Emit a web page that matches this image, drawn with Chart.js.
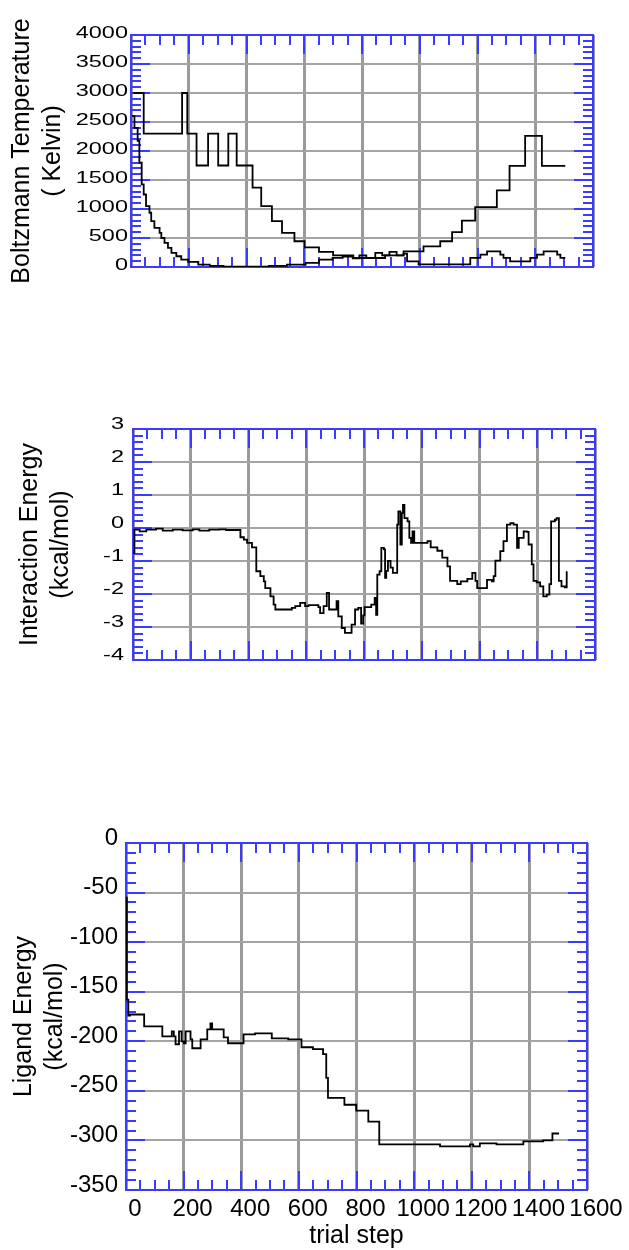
<!DOCTYPE html>
<html><head><meta charset="utf-8">
<script src="https://cdn.jsdelivr.net/npm/chart.js@4.4.1/dist/chart.umd.min.js"></script>
<style>
html,body{margin:0;padding:0;background:#fff;width:629px;height:1250px;overflow:hidden}
.box{position:absolute;left:0;width:629px}
</style></head><body>
<div class="box" style="top:0;height:300px"><canvas id="c1"></canvas></div>
<div class="box" style="top:400px;height:300px"><canvas id="c2"></canvas></div>
<div class="box" style="top:800px;height:450px"><canvas id="c3"></canvas></div>
<script>
// ---------- data ----------
const stepMin = 0, stepMax = 1600;

// Chart 1: Boltzmann temperature (schedule and actual)
const scheduleStep = [8, 44, 177, 195, 227, 267, 302, 337, 366, 421, 451, 488, 523, 566, 601, 651, 700, 770, 880, 944, 1013, 1071, 1112, 1146, 1192, 1267, 1311, 1365, 1423, 1504];
const scheduleTemp = [3000, 2300, 3000, 2300, 1750, 2300, 1750, 2300, 1750, 1370, 1050, 790, 590, 444, 340, 260, 200, 155, 200, 270, 356, 444, 600, 800, 1033, 1321, 1743, 2262, 1743, 1743];
const actualStep = [4, 12, 23, 29, 37, 44, 52, 64, 70, 81, 99, 105, 116, 128, 140, 157, 174, 198, 233, 273, 320, 477, 540, 605, 651, 698, 733, 768, 791, 815, 846, 870, 895, 920, 944, 956, 996, 1175, 1210, 1233, 1279, 1290, 1313, 1383, 1406, 1429, 1476, 1487, 1504];
const actualTemp = [2600, 2400, 2175, 1800, 1425, 1250, 1050, 935, 790, 675, 590, 500, 415, 330, 242, 185, 127, 87, 40, 20, 5, 20, 40, 70, 127, 156, 180, 150, 200, 156, 242, 200, 260, 200, 230, 98, 45, 156, 213, 271, 213, 156, 98, 156, 213, 271, 213, 156, 156];

// Chart 2: interaction energy
const interStep = [0, 5, 23, 46, 80, 103, 138, 172, 207, 230, 264, 299, 322, 372, 384, 395, 412, 427, 441, 453, 458, 476, 487, 493, 550, 562, 579, 596, 608, 642, 648, 660, 671, 679, 705, 711, 723, 734, 751, 757, 769, 780, 790, 797, 802, 825, 837, 842, 846, 854, 860, 869, 873, 877, 883, 892, 900, 915, 919, 926, 931, 935, 940, 951, 957, 963, 968, 974, 1020, 1031, 1054, 1071, 1089, 1098, 1123, 1135, 1158, 1175, 1186, 1192, 1215, 1226, 1243, 1249, 1255, 1272, 1283, 1295, 1307, 1318, 1330, 1336, 1353, 1364, 1370, 1381, 1387, 1398, 1410, 1421, 1433, 1442, 1448, 1461, 1467, 1475, 1484, 1496, 1502];
const interEnergy = [-0.75, -0.05, -0.1, -0.05, -0.02, -0.08, -0.05, -0.07, -0.04, -0.08, -0.05, -0.04, -0.06, -0.28, -0.35, -0.45, -0.59, -1.31, -1.46, -1.62, -1.82, -2.07, -2.32, -2.47, -2.42, -2.37, -2.27, -2.37, -2.34, -2.4, -2.58, -2.37, -1.97, -2.47, -2.22, -2.68, -3.03, -3.18, -3.18, -2.93, -2.47, -2.42, -2.9, -2.65, -2.4, -2.32, -2.12, -2.63, -1.41, -1.31, -0.6, -0.65, -1.51, -1.3, -1.0, -1.2, -1.36, 0.1, 0.5, -0.5, 0.45, 0.7, 0.3, 0.2, -0.3, -0.45, -0.1, -0.45, -0.4, -0.59, -0.69, -0.9, -1.16, -1.6, -1.7, -1.62, -1.54, -1.36, -1.6, -1.82, -1.82, -1.57, -1.62, -1.46, -0.99, -0.7, -0.4, 0.1, 0.15, 0.1, -0.6, -0.3, -0.1, -0.12, -0.5, -1.1, -1.6, -1.65, -1.77, -2.07, -2.02, -1.7, 0.2, 0.25, 0.3, -1.6, -1.77, -1.8, -1.31];

// Chart 3: ligand energy
const ligandStep = [0, 3, 8, 14, 63, 126, 159, 166, 172, 184, 193, 201, 207, 224, 230, 259, 282, 293, 299, 339, 354, 408, 448, 506, 563, 609, 649, 684, 695, 701, 758, 799, 841, 879, 1090, 1194, 1205, 1228, 1286, 1379, 1448, 1480, 1503];
const ligandEnergy = [-55, -158, -174, -173, -185, -195, -190, -195, -203, -190, -200, -202, -190, -198, -207, -198, -188, -182, -188, -196, -202, -193, -192, -197, -198, -206, -208, -213, -237, -257, -264, -270, -281, -304, -306, -304, -306, -303, -304, -301, -300, -293, -293];

const stepTickLabels = [0, 200, 400, 600, 800, 1000, 1200, 1400, 1600];

// ---------- helpers ----------
const FONT = '"Liberation Sans", Arial, Helvetica, sans-serif';
const toXY = (xs, ys) => xs.map((x, i) => ({x, y: ys[i]}));

const framePlugin = {
  id: 'frame',
  beforeDatasetsDraw(chart, args, o) {
    const {ctx, chartArea: a, scales: {x, y}} = chart;
    ctx.save();
    ctx.strokeStyle = o.color;
    ctx.lineWidth = 2;
    ctx.beginPath();
    const nx = Math.round((x.max - x.min) / o.xMinor);
    for (let i = 0; i <= nx; i++) {
      const v = x.min + i * o.xMinor;
      const px = Math.round(x.getPixelForValue(v));
      const maj = Math.abs(v / o.xMajor - Math.round(v / o.xMajor)) < 1e-6;
      const len = maj ? 19 : 10;
      ctx.moveTo(px, a.top); ctx.lineTo(px, a.top + len);
      ctx.moveTo(px, a.bottom); ctx.lineTo(px, a.bottom - len);
    }
    const ny = Math.round((y.max - y.min) / o.yMinor);
    for (let i = 0; i <= ny; i++) {
      const v = y.min + i * o.yMinor;
      const py = Math.round(y.getPixelForValue(v));
      const maj = Math.abs(v / o.yMajor - Math.round(v / o.yMajor)) < 1e-6;
      const len = maj ? 19 : 10;
      ctx.moveTo(a.left, py); ctx.lineTo(a.left + len, py);
      ctx.moveTo(a.right, py); ctx.lineTo(a.right - len, py);
    }
    ctx.stroke();
    ctx.strokeRect(a.left, a.top, a.right - a.left, a.bottom - a.top);
    ctx.restore();
  },
  afterDraw(chart, args, o) {
    if (!o.labels) return;
    const {ctx, chartArea: a, scales: {y}} = chart;
    ctx.save();
    ctx.font = o.labels.size + 'px ' + FONT;
    ctx.fillStyle = '#000';
    ctx.textAlign = 'right';
    ctx.textBaseline = 'middle';
    y.ticks.forEach(t => {
      const py = y.getPixelForValue(t.value) + o.labels.offset;
      ctx.save();
      ctx.translate(a.left - o.labels.pad, py);
      ctx.scale(1, o.labels.squash);
      ctx.fillText(String(t.value), 0, 0);
      ctx.restore();
    });
    ctx.restore();
  }
};

function makeChart(id, cfg) {
  const datasets = cfg.series.map(s => ({
    data: s, borderColor: '#000', borderWidth: 1.8, pointRadius: 0,
    stepped: 'before', fill: false, tension: 0
  }));
  return new Chart(document.getElementById(id), {
    type: 'line',
    data: {datasets},
    plugins: [framePlugin],
    options: {
      responsive: true, maintainAspectRatio: false, animation: false,
      layout: {padding: {top: cfg.padTop, right: cfg.padRight, left: 0, bottom: 0}},
      plugins: {
        legend: {display: false}, tooltip: {enabled: false},
        frame: {color: '#3b3bff', xMinor: 50, xMajor: 200, yMinor: cfg.yMinor, yMajor: cfg.yStep, labels: cfg.customLabels || null}
      },
      scales: {
        x: {
          type: 'linear', min: stepMin, max: stepMax,
          afterBuildTicks: s => { s.ticks = stepTickLabels.map(v => ({value: v})); },
          afterFit: s => { s.height = cfg.xHeight; },
          border: {display: false},
          grid: {color: '#9a9a9a', lineWidth: 3, drawTicks: false},
          ticks: {
            display: cfg.showX, autoSkip: false, maxRotation: 0, minRotation: 0,
            padding: 5, labelOffset: 9, color: '#000',
            font: {family: FONT, size: 24}, callback: v => String(v)
          },
          title: {display: cfg.showX, text: 'trial step', color: '#000',
            font: {family: FONT, size: 25, lineHeight: 1.1}, padding: {top: 0, bottom: 0}}
        },
        y: {
          type: 'linear', min: cfg.yMin, max: cfg.yMax,
          afterFit: s => { s.width = cfg.yWidth; },
          border: {display: false},
          grid: {color: '#a4a4a4', lineWidth: 2, drawTicks: false},
          ticks: {
            display: !cfg.customLabels, stepSize: cfg.yStep, padding: 8, labelOffset: -5,
            color: '#000', font: {family: FONT, size: 24}, callback: v => String(v)
          },
          title: {display: true, text: cfg.yTitle, color: '#000',
            font: {family: FONT, size: 25, lineHeight: 1.22}, padding: {top: cfg.titlePad, bottom: 0}}
        }
      }
    }
  });
}

makeChart('c1', {
  series: [toXY(scheduleStep, scheduleTemp), toXY(actualStep, actualTemp)],
  yMin: 0, yMax: 4000, yStep: 500, yMinor: 100,
  yTitle: ['Boltzmann Temperature', '( Kelvin)'],
  yWidth: 131, xHeight: 33, padTop: 35, padRight: 36, titlePad: 7, showX: false,
  customLabels: {size: 23.5, squash: 0.72, pad: 3, offset: -2}
});
makeChart('c2', {
  series: [toXY(interStep, interEnergy)],
  yMin: -4, yMax: 3, yStep: 1, yMinor: 0.2,
  yTitle: ['Interaction Energy', '(kcal/mol)'],
  yWidth: 133, xHeight: 40, padTop: 29, padRight: 34, titlePad: 15, showX: false,
  customLabels: {size: 23.5, squash: 0.7, pad: 9, offset: -5}
});
makeChart('c3', {
  series: [toXY(ligandStep, ligandEnergy)],
  yMin: -350, yMax: 0, yStep: 50, yMinor: 10,
  yTitle: ['Ligand Energy', '(kcal/mol)'],
  yWidth: 126, xHeight: 60, padTop: 43, padRight: 42, titlePad: 9, showX: true
});
</script></body></html>
